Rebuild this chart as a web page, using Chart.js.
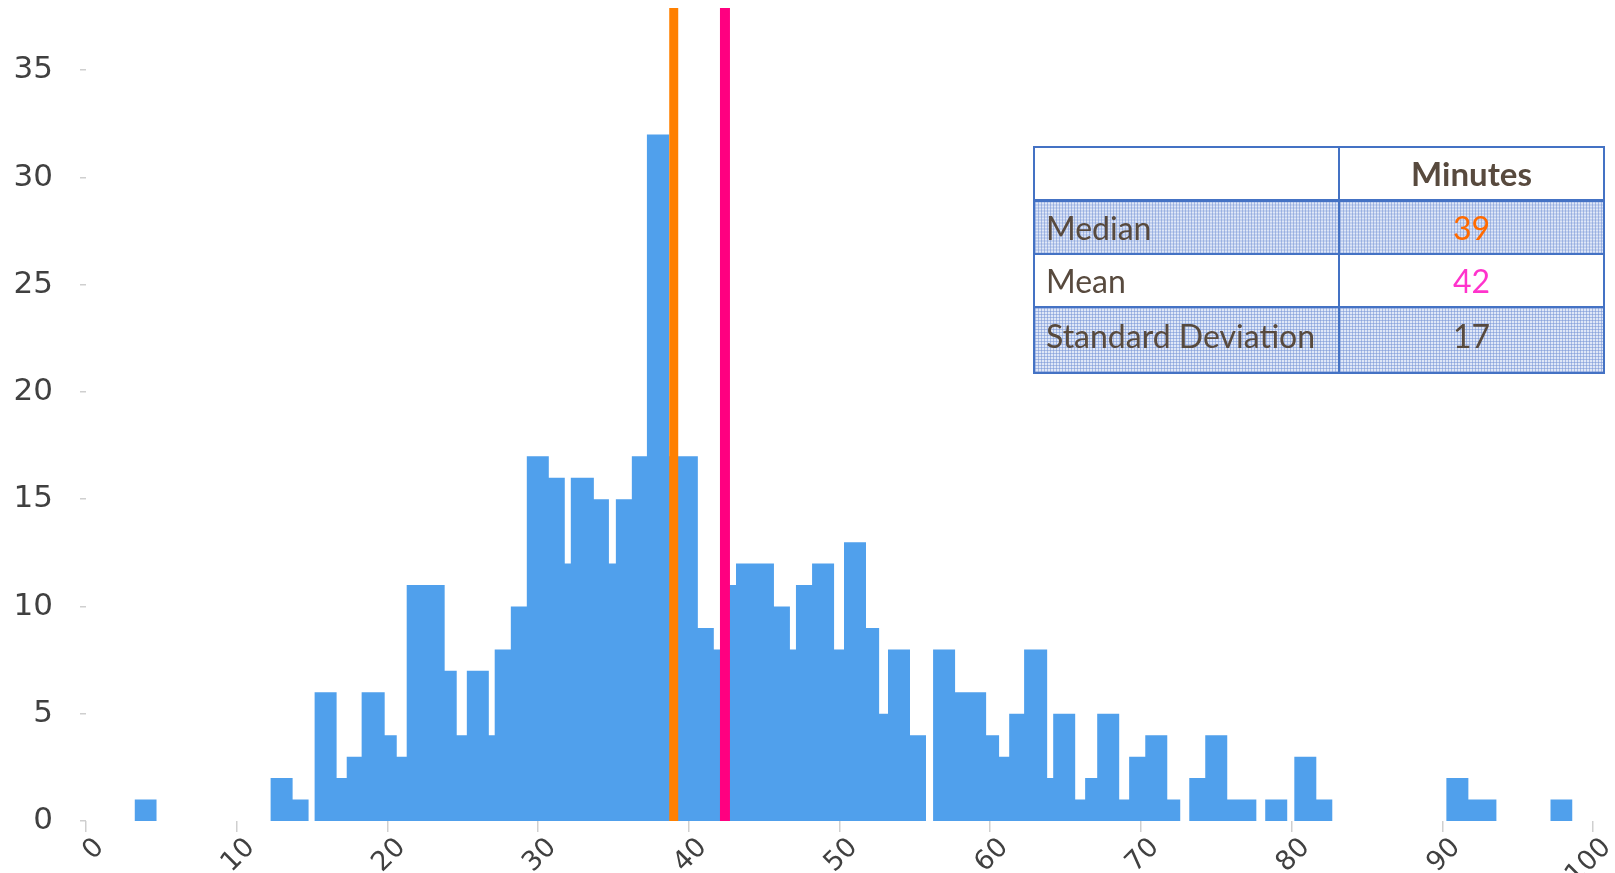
<!DOCTYPE html>
<html>
<head>
<meta charset="utf-8">
<title>Minutes histogram</title>
<script src="https://cdn.jsdelivr.net/npm/chart.js@4.4.1/dist/chart.umd.min.js"></script>
<style>
  html, body { margin: 0; padding: 0; background: #fff; }
  #wrap { position: relative; width: 1615px; height: 873px; overflow: hidden; }
  #chart { position: absolute; left: 0; top: 0; }
  #stats {
    position: absolute; left: 1033px; top: 146px;
    border-collapse: collapse; table-layout: fixed;
    font-family: Lato, "Open Sans", sans-serif; font-size: 32px; color: #584A3E;
  }
  #stats td, #stats th { border: 2px solid #4472C4; padding: 0; }
  #stats th { font-weight: bold; text-align: center; border-bottom-width: 3px; font-size: 33px; }
  #stats td:first-child { text-align: left; padding-left: 11px; }
  #stats td.val { text-align: center; }
  #stats tr.last td { padding-bottom: 10px; }
  #stats tr.pattern td {
    background-color: #dfe7f7;
    background-image:
      linear-gradient(to right, rgba(120, 150, 215, 0.55) 1px, transparent 1px),
      linear-gradient(to bottom, rgba(120, 150, 215, 0.55) 1px, transparent 1px);
    background-size: 3px 3px;
  }
</style>
</head>
<body>
<div id="wrap">
  <canvas id="chart" width="1615" height="873"></canvas>
  <table id="stats"></table>
</div>
<script>
// histogram: each count holds from its edge up to the next edge
const binEdges = [3.22, 4.68, 12.25, 13.71, 14.77, 15.17, 16.63, 17.30, 18.29, 19.82,
  20.62, 21.28, 23.80, 24.60, 25.27, 26.73, 27.12, 28.19, 29.25, 30.71,
  31.77, 32.17, 33.70, 34.70, 35.16, 36.22, 37.22, 38.70, 40.60, 41.66,
  42.40, 43.13, 45.65, 46.71, 47.11, 48.18, 49.64, 50.30, 51.76, 52.63,
  53.22, 54.68, 55.74, 56.21, 57.67, 59.73, 60.59, 61.26, 62.25, 63.78,
  64.18, 65.64, 66.30, 67.10, 68.56, 69.22, 70.29, 71.75, 72.61, 73.21,
  74.27, 75.73, 77.66, 78.25, 79.71, 80.18, 81.64, 82.70, 90.27, 91.73,
  93.59, 97.18, 98.64];
const binCounts = [1, 0, 2, 1, 0, 6, 2, 3, 6, 4,
  3, 11, 7, 4, 7, 4, 8, 10, 17, 16,
  12, 16, 15, 12, 15, 17, 32, 17, 9, 8,
  11, 12, 10, 8, 11, 12, 8, 13, 9, 5,
  8, 4, 0, 8, 6, 4, 3, 5, 8, 2,
  5, 1, 2, 5, 1, 3, 4, 1, 0, 2,
  4, 1, 0, 1, 0, 3, 1, 0, 2, 1,
  0, 1, 0];

const xTickValues = [0, 10, 20, 30, 40, 50, 60, 70, 80, 90, 100];
const yTickValues = [0, 5, 10, 15, 20, 25, 30, 35];

// where the two reference lines sit on the x axis
const medianLine = 39.0;
const meanLine = 42.4;

const statLabels = ['Median', 'Mean', 'Standard Deviation'];
const statValues = [39, 42, 17];
const statColors = ['#FF6A00', '#FF33CC', '#584A3E'];

const Y_MAX = 37.9;

// --- stats table ---
const table = document.getElementById('stats');
let html = '<colgroup><col style="width:305px"><col style="width:265px"></colgroup>';
html += '<tr style="height:53px"><th></th><th>Minutes</th></tr>';
const rowHeights = [54, 53, 66];
statLabels.forEach((label, i) => {
  let cls = i % 2 === 0 ? 'pattern' : '';
  if (i === statLabels.length - 1) cls += ' last';
  html += `<tr class="${cls}" style="height:${rowHeights[i]}px"><td>${label}</td>` +
          `<td class="val" style="color:${statColors[i]}">${statValues[i]}</td></tr>`;
});
table.innerHTML = html;

// --- chart ---
const histPoints = binEdges.map((x, i) => ({ x: x, y: binCounts[i] }));

new Chart(document.getElementById('chart'), {
  type: 'line',
  data: {
    datasets: [
      {
        label: 'Median',
        data: [{ x: medianLine, y: 0 }, { x: medianLine, y: Y_MAX }],
        borderColor: '#FF8000',
        borderWidth: 9,
        pointRadius: 0,
        fill: false
      },
      {
        label: 'Mean',
        data: [{ x: meanLine, y: 0 }, { x: meanLine, y: Y_MAX }],
        borderColor: '#FF0080',
        borderWidth: 10,
        pointRadius: 0,
        fill: false
      },
      {
        label: 'Count',
        data: histPoints,
        stepped: true,
        fill: 'origin',
        backgroundColor: '#50A0EC',
        borderColor: 'rgba(0,0,0,0)',
        borderWidth: 0,
        pointRadius: 0
      }
    ]
  },
  options: {
    responsive: false,
    animation: false,
    devicePixelRatio: 1,
    layout: { padding: { top: 8, right: 22, left: 0, bottom: 0 } },
    plugins: {
      legend: { display: false },
      tooltip: { enabled: false }
    },
    scales: {
      x: {
        type: 'linear',
        min: 0,
        max: 100,
        afterBuildTicks: axis => { axis.ticks = xTickValues.map(v => ({ value: v })); },
        afterFit: scale => {
          scale.height = 52;
          scale.paddingLeft = 0;
          scale.paddingRight = 0;
          scale.paddingTop = 0;
          scale.paddingBottom = 0;
        },
        ticks: {
          autoSkip: false,
          minRotation: 45,
          maxRotation: 45,
          padding: 0,
          labelOffset: 14,
          color: '#404040',
          font: { family: 'DejaVu Sans', size: 27 }
        },
        grid: { drawOnChartArea: false, tickLength: 11, color: '#cfcfcf', lineWidth: 1.5 },
        border: { display: false }
      },
      y: {
        min: 0,
        max: Y_MAX,
        afterBuildTicks: axis => { axis.ticks = yTickValues.map(v => ({ value: v })); },
        afterFit: scale => {
          scale.width = 86;
          scale.paddingTop = 0;
          scale.paddingBottom = 0;
        },
        ticks: {
          padding: 27,
          color: '#404040',
          font: { family: 'DejaVu Sans', size: 31 }
        },
        grid: { drawOnChartArea: false, tickLength: 6, color: '#cfcfcf', lineWidth: 1.5 },
        border: { display: false }
      }
    }
  }
});
</script>
</body>
</html>
